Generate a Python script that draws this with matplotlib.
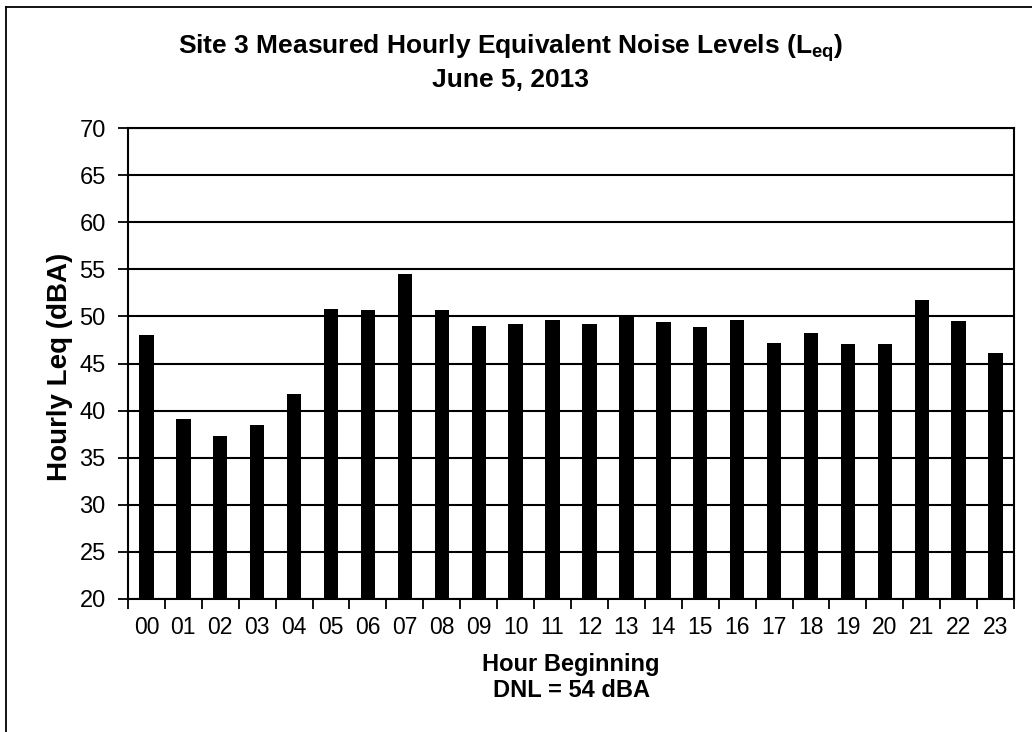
import numpy as np
import matplotlib
matplotlib.use('Agg')
from matplotlib import pyplot as plt
from matplotlib.lines import Line2D

plt.rcParams['font.family'] = ['Liberation Sans', 'DejaVu Sans']
plt.rcParams['mathtext.fontset'] = 'custom'
plt.rcParams['mathtext.rm'] = 'Liberation Sans:bold'
plt.rcParams['mathtext.it'] = 'Liberation Sans:bold'
plt.rcParams['mathtext.bf'] = 'Liberation Sans:bold'

hours = ['00', '01', '02', '03', '04', '05', '06', '07', '08', '09', '10', '11',
         '12', '13', '14', '15', '16', '17', '18', '19', '20', '21', '22', '23']
leq = [48.0, 39.1, 37.3, 38.5, 41.8, 50.8, 50.7, 54.5, 50.7, 49.0, 49.2, 49.6,
       49.2, 50.2, 49.4, 48.9, 49.6, 47.2, 48.2, 47.1, 47.1, 51.7, 49.5, 46.1]
yticks = list(range(20, 75, 5))

fig = plt.figure(figsize=(10.32, 7.32), dpi=100)
ax = fig.add_axes([0.124, 0.1817, 0.8586, 0.6434])

x = np.arange(len(hours))
ax.bar(x, leq, width=0.39, color='black', zorder=3)

ax.set_ylim(20, 70)
ax.set_xlim(-0.5, len(hours) - 0.5)
ax.set_yticks(yticks)
ax.set_yticklabels([str(v) for v in yticks], fontsize=17)
ax.yaxis.grid(True, color='black', linewidth=1.5, zorder=0)
ax.set_axisbelow(True)

# category labels centred, tick marks between categories
ax.set_xticks(x)
ax.set_xticklabels(hours, fontsize=16.5)
ax.tick_params(axis='x', which='major', length=0, pad=12)
ax.set_xticks(np.arange(-0.5, len(hours), 1), minor=True)
ax.tick_params(axis='x', which='minor', length=7, width=1.3, direction='out')
ax.tick_params(axis='y', length=7, width=1.3, direction='out', pad=9)

for s in ax.spines.values():
    s.set_linewidth(1.5)
    s.set_color('black')

# axis titles
fig.text(0.0577, 0.4986, 'Hourly Leq (dBA)', rotation=90, ha='center', va='center',
         fontsize=20, fontweight='bold')
fig.text(0.5533, 0.0837, 'Hour Beginning', ha='center', va='baseline',
         fontsize=17, fontweight='bold')
fig.text(0.5533, 0.0478, 'DNL = 54 dBA', ha='center', va='baseline',
         fontsize=17, fontweight='bold')

# chart title
fig.text(0.495, 0.926, 'Site 3 Measured Hourly Equivalent Noise Levels (L$_{eq}$)',
         ha='center', va='baseline', fontsize=19, fontweight='bold')
fig.text(0.495, 0.881, 'June 5, 2013', ha='center', va='baseline',
         fontsize=19, fontweight='bold')

# outer frame (left and top edges visible)
fig.add_artist(Line2D([0.0058, 0.0058], [0.0, 0.9904], color='black', linewidth=1.3,
                      transform=fig.transFigure))
fig.add_artist(Line2D([0.0058, 1.0], [0.9904, 0.9904], color='black', linewidth=1.3,
                      transform=fig.transFigure))

plt.savefig('out.png', dpi=100)
